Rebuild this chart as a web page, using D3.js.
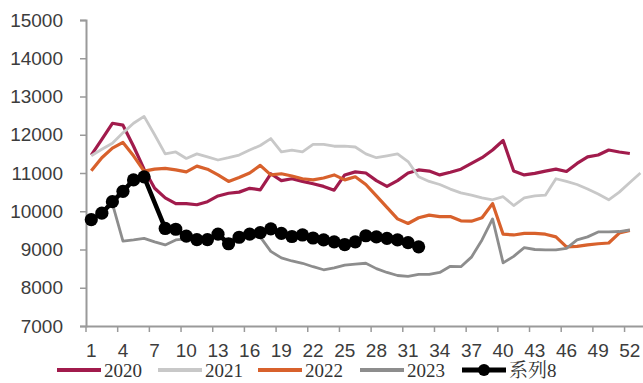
<!DOCTYPE html>
<html><head><meta charset="utf-8">
<script src="https://cdn.jsdelivr.net/npm/d3@7"></script>
<style>
html,body{margin:0;padding:0;background:#fff;}
svg{display:block;}
</style></head>
<body><svg id="c" width="643" height="383"></svg>
<script>
// ---- data ----
const weeks = [1,2,3,4,5,6,7,8,9,10,11,12,13,14,15,16,17,18,19,20,21,22,23,24,25,26,27,28,29,30,31,32,33,34,35,36,37,38,39,40,41,42,43,44,45,46,47,48,49,50,51,52,53];
const tickLabels = [1,4,7,10,13,16,19,22,25,28,31,34,37,40,43,46,49,52];
const yTicks = [7000,8000,9000,10000,11000,12000,13000,14000,15000];
const seriesNames = ["2020","2021","2022","2023","系列8"];
const s2020 = [11470,11880,12300,12250,11700,11100,10600,10350,10200,10200,10170,10250,10400,10470,10500,10600,10560,10980,10800,10850,10780,10720,10650,10550,10950,11030,11000,10800,10650,10800,11000,11080,11050,10950,11020,11100,11250,11400,11600,11850,11050,10950,10990,11050,11100,11040,11250,11420,11470,11600,11550,11510];
const s2021 = [11450,11620,11780,12050,12300,12480,12000,11500,11550,11380,11500,11420,11340,11400,11470,11600,11720,11900,11550,11600,11550,11750,11750,11700,11700,11680,11500,11400,11450,11500,11300,10900,10780,10700,10580,10480,10420,10350,10300,10380,10150,10350,10400,10420,10850,10780,10700,10580,10450,10300,10500,10750,11000];
const s2022 = [11060,11400,11650,11800,11450,11050,11100,11120,11080,11030,11180,11100,10950,10780,10880,11000,11200,10950,10980,10920,10850,10820,10870,10950,10820,10900,10700,10400,10100,9800,9680,9830,9900,9860,9860,9750,9740,9830,10200,9400,9380,9420,9420,9400,9330,9070,9080,9120,9150,9170,9430,9500];
const s2023 = [9780,9950,10200,9220,9250,9290,9200,9120,9250,9280,9300,9300,9320,9250,9300,9330,9330,8950,8780,8700,8640,8550,8470,8520,8590,8620,8640,8500,8400,8320,8300,8350,8350,8400,8560,8550,8800,9250,9800,8650,8820,9050,9000,8990,8990,9030,9250,9330,9460,9460,9470,9510];
const s8 = [9780,9950,10250,10520,10820,10900,null,9550,9530,9350,9260,9260,9400,9150,9320,9400,9440,9540,9420,9340,9380,9300,9250,9200,9130,9200,9360,9330,9290,9250,9180,9070];
const colors = ["#a11b4c","#c8c8c8","#d8612c","#8d8d8d","#000000"];

// ---- layout ----
const svg = d3.select("#c");
svg.append("rect").attr("width",643).attr("height",383).attr("fill","#fff");
const x = d3.scaleBand().domain(weeks).range([86, 86 + 53*10.56]).paddingInner(0).paddingOuter(0);
const y = d3.scaleLinear().domain([7000,15000]).range([326,20]);
const cx = w => x(w) + x.bandwidth()/2;
const axisColor = "#9a9a9a";

// y axis
const ya = svg.append("g").attr("transform","translate(86,0)")
  .call(d3.axisLeft(y).tickValues(yTicks).tickSize(6).tickPadding(17).tickFormat(d3.format("d")));
ya.select(".domain").attr("stroke",axisColor).attr("stroke-width",2);
ya.selectAll(".tick line").attr("stroke",axisColor).attr("stroke-width",1.5);
ya.selectAll("text").attr("font-family","'Liberation Sans', Arial, sans-serif").attr("font-size",19).attr("fill","#3c3c3c");

// x axis
const xa = svg.append("g").attr("transform","translate(0,326)")
  .call(d3.axisBottom(x).tickValues(tickLabels).tickSize(0).tickPadding(18).tickSizeOuter(0));
xa.select(".domain").attr("stroke",axisColor).attr("stroke-width",2);
xa.selectAll("text").attr("font-family","'Liberation Sans', Arial, sans-serif").attr("font-size",19).attr("fill","#3c3c3c");
xa.selectAll(".tickmark").data(tickLabels).enter().append("line")
  .attr("x1",d=>x(d)).attr("x2",d=>x(d)).attr("y1",0).attr("y2",6)
  .attr("stroke",axisColor).attr("stroke-width",1.5);

// series
const all = [s2020,s2021,s2022,s2023,s8];
const widths = [3.2,2.8,3.2,2.8,4.5];
const line = d3.line().x(d=>cx(d.w)).y(d=>y(d.v)).curve(d3.curveLinear);
all.forEach((s,i)=>{
  const pts = s.map((v,j)=>({w:weeks[j],v:v})).filter(d=>d.v!==null);
  svg.append("path").datum(pts).attr("d",line).attr("fill","none")
    .attr("stroke",colors[i]).attr("stroke-width",widths[i]).attr("stroke-linejoin","round");
  if(i===4){
    svg.selectAll(".m").data(pts).enter().append("circle")
      .attr("cx",d=>cx(d.w)).attr("cy",d=>y(d.v)).attr("r",6.6).attr("fill","#000");
  }
});

// legend
const lx = [57,158,258,360,462];
const lg = svg.append("g");
seriesNames.forEach((n,i)=>{
  lg.append("line").attr("x1",lx[i]).attr("x2",lx[i]+44).attr("y1",370).attr("y2",370)
    .attr("stroke",colors[i]).attr("stroke-width",i===4?5:4);
  if(i===4) lg.append("circle").attr("cx",lx[i]+22).attr("cy",370).attr("r",6).attr("fill","#000");
  lg.append("text").attr("x",lx[i]+47).attr("y",377).text(n)
    .attr("font-family","'Liberation Serif','Times New Roman','Noto Serif CJK SC','Noto Sans CJK SC',serif")
    .attr("font-size",19).attr("fill","#333");
});
</script></body></html>
